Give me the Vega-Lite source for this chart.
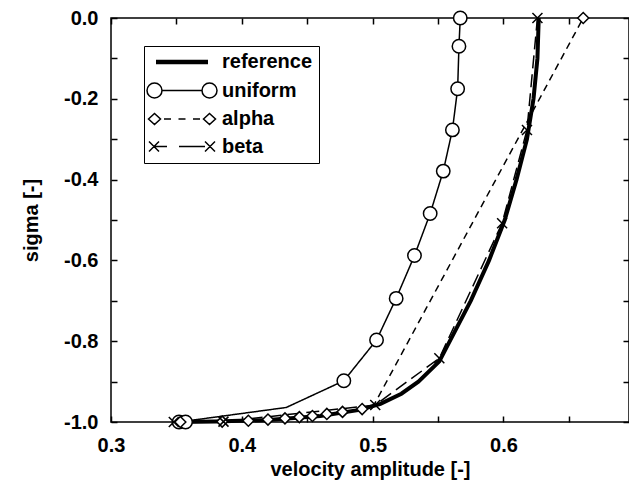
{
  "$schema": "https://vega.github.io/schema/vega-lite/v6.json",
  "width": 518,
  "height": 404,
  "autosize": {"type": "none"},
  "padding": {"left": 111, "top": 18, "right": 0, "bottom": 60},
  "background": "white",
  "datasets": {
    "curves": [
      {"series": "reference", "v": 0.352, "sigma": -1.0},
      {"series": "reference", "v": 0.38, "sigma": -0.999},
      {"series": "reference", "v": 0.42, "sigma": -0.995},
      {"series": "reference", "v": 0.46, "sigma": -0.985},
      {"series": "reference", "v": 0.49, "sigma": -0.97},
      {"series": "reference", "v": 0.506, "sigma": -0.955},
      {"series": "reference", "v": 0.522, "sigma": -0.93},
      {"series": "reference", "v": 0.535, "sigma": -0.9},
      {"series": "reference", "v": 0.551, "sigma": -0.85},
      {"series": "reference", "v": 0.559, "sigma": -0.8},
      {"series": "reference", "v": 0.575, "sigma": -0.7},
      {"series": "reference", "v": 0.589, "sigma": -0.6},
      {"series": "reference", "v": 0.601, "sigma": -0.5},
      {"series": "reference", "v": 0.61, "sigma": -0.4},
      {"series": "reference", "v": 0.618, "sigma": -0.3},
      {"series": "reference", "v": 0.623, "sigma": -0.2},
      {"series": "reference", "v": 0.626, "sigma": -0.1},
      {"series": "reference", "v": 0.627, "sigma": 0.0},
      {"series": "uniform", "v": 0.567, "sigma": 0.0},
      {"series": "uniform", "v": 0.566, "sigma": -0.07},
      {"series": "uniform", "v": 0.565, "sigma": -0.175},
      {"series": "uniform", "v": 0.561, "sigma": -0.277},
      {"series": "uniform", "v": 0.554, "sigma": -0.379},
      {"series": "uniform", "v": 0.544, "sigma": -0.484},
      {"series": "uniform", "v": 0.532, "sigma": -0.588},
      {"series": "uniform", "v": 0.518, "sigma": -0.694},
      {"series": "uniform", "v": 0.503, "sigma": -0.797},
      {"series": "uniform", "v": 0.478, "sigma": -0.898},
      {"series": "uniform", "v": 0.434, "sigma": -0.964},
      {"series": "uniform", "v": 0.352, "sigma": -1.0},
      {"series": "alpha", "v": 0.661, "sigma": 0.0},
      {"series": "alpha", "v": 0.501, "sigma": -0.958},
      {"series": "alpha", "v": 0.492, "sigma": -0.968},
      {"series": "alpha", "v": 0.477, "sigma": -0.975},
      {"series": "alpha", "v": 0.465, "sigma": -0.98},
      {"series": "alpha", "v": 0.454, "sigma": -0.985},
      {"series": "alpha", "v": 0.444, "sigma": -0.988},
      {"series": "alpha", "v": 0.433, "sigma": -0.991},
      {"series": "alpha", "v": 0.42, "sigma": -0.994},
      {"series": "alpha", "v": 0.405, "sigma": -0.997},
      {"series": "alpha", "v": 0.385, "sigma": -0.999},
      {"series": "alpha", "v": 0.353, "sigma": -1.0},
      {"series": "beta", "v": 0.626, "sigma": 0.0},
      {"series": "beta", "v": 0.618, "sigma": -0.277},
      {"series": "beta", "v": 0.599, "sigma": -0.508},
      {"series": "beta", "v": 0.551, "sigma": -0.842},
      {"series": "beta", "v": 0.502, "sigma": -0.958},
      {"series": "beta", "v": 0.386, "sigma": -0.999},
      {"series": "beta", "v": 0.348, "sigma": -1.0}
    ],
    "markers": [
      {"series": "uniform", "v": 0.567, "sigma": 0.0},
      {"series": "uniform", "v": 0.566, "sigma": -0.07},
      {"series": "uniform", "v": 0.565, "sigma": -0.175},
      {"series": "uniform", "v": 0.561, "sigma": -0.277},
      {"series": "uniform", "v": 0.554, "sigma": -0.379},
      {"series": "uniform", "v": 0.544, "sigma": -0.484},
      {"series": "uniform", "v": 0.532, "sigma": -0.588},
      {"series": "uniform", "v": 0.518, "sigma": -0.694},
      {"series": "uniform", "v": 0.503, "sigma": -0.797},
      {"series": "uniform", "v": 0.478, "sigma": -0.898},
      {"series": "uniform", "v": 0.352, "sigma": -1.0},
      {"series": "uniform", "v": 0.357, "sigma": -1.0},
      {"series": "alpha", "v": 0.661, "sigma": 0.0},
      {"series": "alpha", "v": 0.492, "sigma": -0.968},
      {"series": "alpha", "v": 0.477, "sigma": -0.975},
      {"series": "alpha", "v": 0.465, "sigma": -0.98},
      {"series": "alpha", "v": 0.454, "sigma": -0.985},
      {"series": "alpha", "v": 0.444, "sigma": -0.988},
      {"series": "alpha", "v": 0.433, "sigma": -0.991},
      {"series": "alpha", "v": 0.42, "sigma": -0.994},
      {"series": "alpha", "v": 0.405, "sigma": -0.997},
      {"series": "alpha", "v": 0.385, "sigma": -0.999},
      {"series": "alpha", "v": 0.353, "sigma": -1.0},
      {"series": "beta", "v": 0.626, "sigma": 0.0},
      {"series": "beta", "v": 0.618, "sigma": -0.277},
      {"series": "beta", "v": 0.599, "sigma": -0.508},
      {"series": "beta", "v": 0.551, "sigma": -0.842},
      {"series": "beta", "v": 0.502, "sigma": -0.958},
      {"series": "beta", "v": 0.386, "sigma": -0.999},
      {"series": "beta", "v": 0.348, "sigma": -1.0}
    ]
  },
  "config": {
    "view": {"stroke": "black", "strokeWidth": 1.5},
    "font": "Liberation Sans",
    "axis": {
      "grid": false,
      "domain": false,
      "ticks": true,
      "tickColor": "black",
      "tickSize": 6,
      "tickWidth": 1.5,
      "zindex": 1,
      "labelFont": "Liberation Sans",
      "labelFontSize": 20,
      "labelFontWeight": "bold",
      "labelColor": "black",
      "titleFont": "Liberation Sans",
      "titleFontSize": 20,
      "titleFontWeight": "bold",
      "titleColor": "black",
      "labelFlush": false,
      "labelOverlap": false,
      "labelBound": false
    }
  },
  "resolve": {"axis": {"x": "independent", "y": "independent"}},
  "layer": [
    {
      "data": {"name": "curves"},
      "transform": [{"filter": "datum.series !== 'reference'"}],
      "mark": {"type": "line", "color": "black", "strokeWidth": 1.5},
      "encoding": {
        "x": {
          "field": "v", "type": "quantitative",
          "scale": {"domain": [0.3, 0.696], "nice": false, "zero": false},
          "axis": {
            "orient": "bottom",
            "offset": -6,
            "title": "velocity amplitude [-]",
            "values": [0.3, 0.35, 0.4, 0.45, 0.5, 0.55, 0.6, 0.65],
            "labelExpr": "abs(datum.value*10 - round(datum.value*10)) < 0.001 ? format(datum.value, '.1f') : ''",
            "labelPadding": 13,
            "titlePadding": 4
          }
        },
        "y": {
          "field": "sigma", "type": "quantitative",
          "scale": {"domain": [-1, 0], "nice": false, "zero": false},
          "axis": {
            "orient": "left",
            "offset": -6,
            "title": "sigma [-]",
            "values": [-1, -0.9, -0.8, -0.7, -0.6, -0.5, -0.4, -0.3, -0.2, -0.1, 0],
            "labelExpr": "abs(datum.value*5 - round(datum.value*5)) < 0.001 ? replace(format(datum.value, '.1f'), '\u2212', '-') : ''",
            "labelPadding": 13,
            "titlePadding": 22
          }
        },
        "strokeDash": {
          "field": "series", "type": "nominal",
          "scale": {"domain": ["uniform", "alpha", "beta"], "range": [[1, 0], [7, 5], [13, 6]]},
          "legend": null
        },
        "order": {"field": "sigma", "type": "quantitative"}
      }
    },
    {
      "data": {"name": "curves"},
      "transform": [{"filter": "datum.series === 'reference'"}],
      "mark": {"type": "line", "color": "black", "strokeWidth": 4},
      "encoding": {
        "x": {"field": "v", "type": "quantitative", "axis": null},
        "y": {"field": "sigma", "type": "quantitative", "axis": null},
        "order": {"field": "sigma", "type": "quantitative"}
      }
    },
    {
      "data": {"name": "markers"},
      "transform": [{"filter": "datum.series === 'uniform'"}],
      "mark": {"type": "point", "shape": "circle", "filled": true, "fill": "white", "stroke": "black", "strokeWidth": 1.5, "size": 180, "opacity": 1},
      "encoding": {
        "x": {
          "field": "v", "type": "quantitative",
          "axis": {"orient": "top", "offset": -6, "labels": false, "title": null, "values": [0.3, 0.35, 0.4, 0.45, 0.5, 0.55, 0.6, 0.65]}
        },
        "y": {
          "field": "sigma", "type": "quantitative",
          "axis": {"orient": "right", "offset": -6, "labels": false, "title": null, "values": [-1, -0.9, -0.8, -0.7, -0.6, -0.5, -0.4, -0.3, -0.2, -0.1, 0]}
        }
      }
    },
    {
      "data": {"name": "markers"},
      "transform": [{"filter": "datum.series === 'alpha'"}],
      "mark": {"type": "point", "shape": "diamond", "filled": true, "fill": "white", "stroke": "black", "strokeWidth": 1.5, "size": 121, "opacity": 1},
      "encoding": {
        "x": {"field": "v", "type": "quantitative", "axis": null},
        "y": {"field": "sigma", "type": "quantitative", "axis": null}
      }
    },
    {
      "data": {"name": "markers"},
      "transform": [{"filter": "datum.series === 'beta'"}],
      "mark": {"type": "point", "shape": "M-1,-1L1,1M-1,1L1,-1", "filled": false, "stroke": "black", "strokeWidth": 1.5, "size": 100, "opacity": 1},
      "encoding": {
        "x": {"field": "v", "type": "quantitative", "axis": null},
        "y": {"field": "sigma", "type": "quantitative", "axis": null}
      }
    },
    {
      "data": {"name": "curves"},
      "transform": [{"filter": "false"}],
      "mark": {"type": "point", "filled": false, "stroke": "black", "color": "black", "strokeWidth": 1.5, "opacity": 1},
      "encoding": {
        "x": {"field": "v", "type": "quantitative", "axis": null},
        "y": {"field": "sigma", "type": "quantitative", "axis": null},
        "shape": {
          "field": "series", "type": "nominal",
          "scale": {
            "domain": ["reference", "uniform", "alpha", "beta"],
            "range": [
              "M-5.2,-0.3L5.2,-0.3M-5.2,-0.1L5.2,-0.1M-5.2,0.1L5.2,0.1M-5.2,0.3L5.2,0.3",
              "M-7,0A1.5,1.5 0 1,1 -4,0A1.5,1.5 0 1,1 -7,0ZM-4,0L4,0M4,0A1.5,1.5 0 1,1 7,0A1.5,1.5 0 1,1 4,0Z",
              "M-6.7,0L-5.5,-1.1L-4.3,0L-5.5,1.1ZM-3.6,0L-2.2,0M-0.7,0L0.7,0M2.2,0L3.6,0M4.3,0L5.5,-1.1L6.7,0L5.5,1.1Z",
              "M-6.6,-1L-4.6,1M-6.6,1L-4.6,-1M-5.6,0L-3,0M-0.6,0L4.6,0M4.6,-1L6.6,1M4.6,1L6.6,-1"
            ]
          },
          "legend": {
            "orient": "none",
            "legendX": 33,
            "legendY": 28,
            "title": null,
            "strokeColor": "black",
            "fillColor": "white",
            "padding": 6,
            "rowPadding": 7.5,
            "symbolSize": 100,
            "symbolOffset": 22,
            "labelOffset": 30,
            "symbolStrokeColor": "black",
            "symbolOpacity": 1,
            "labelFont": "Liberation Sans",
            "labelFontSize": 20,
            "labelFontWeight": "bold",
            "labelColor": "black",
            "labelLimit": 0
          }
        }
      }
    }
  ]
}
